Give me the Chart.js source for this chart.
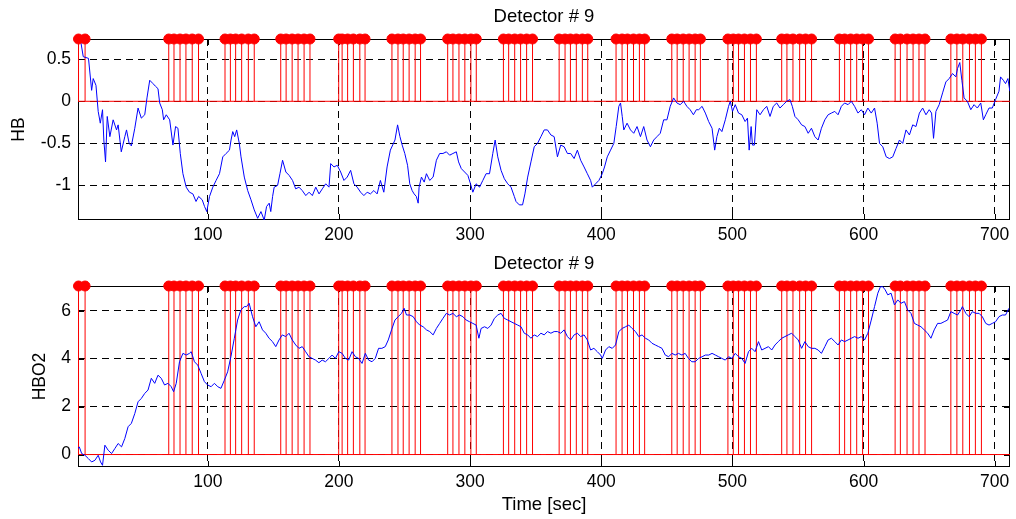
<!DOCTYPE html>
<html>
<head>
<meta charset="utf-8">
<title>Detector # 9</title>
<script src="https://cdn.jsdelivr.net/npm/chart.js@4.4.1/dist/chart.umd.min.js"></script>
<style>
  html, body { margin: 0; padding: 0; background: #fff; }
  #wrap { position: relative; width: 1016px; height: 519px; }
  canvas { position: absolute; left: 0; }
  #hb-chart { top: 0; }
  #hbo2-chart { top: 250px; }
</style>
</head>
<body>
<div id="wrap">
  <canvas id="hb-chart" width="1016" height="250"></canvas>
  <canvas id="hbo2-chart" width="1016" height="269"></canvas>
</div>
<script>
// axis ticks
const timeTicks = [100, 200, 300, 400, 500, 600, 700];
const hbTicks = [-1, -0.5, 0, 0.5];
const hbo2Ticks = [0, 2, 4, 6];

// stimulus onsets (sec), shown as stems in both panels
const stimTimes = [
    1.4, 6.4,
    70.2, 74.2, 78.8, 83.3, 88.1, 92.9,
    113.1, 117.2, 121.2, 125.8, 130.9, 135.4,
    155.6, 159.7, 164.3, 168.8, 173.4, 177.9,
    199.8, 202.4, 206.6, 211.0, 215.9, 219.9,
    240.4, 245.0, 249.0, 253.5, 258.1, 262.2,
    282.9, 286.9, 291.5, 296.0, 300.6, 304.7,
    325.4, 329.4, 334.0, 338.5, 343.1, 347.6,
    367.9, 372.4, 376.5, 381.0, 385.6, 389.7,
    411.3, 415.9, 420.0, 424.6, 429.1, 433.1,
    453.8, 457.9, 462.5, 467.0, 471.6, 475.6,
    496.6, 500.7, 504.7, 509.2, 513.8, 518.3,
    537.6, 541.6, 546.2, 551.3, 555.8, 560.4,
    581.6, 585.6, 590.2, 594.8, 599.3, 603.8,
    624.1, 628.1, 633.2, 637.8, 642.3, 646.9,
    666.6, 671.2, 675.7, 680.8, 685.3, 689.9
];

// HB trace
const hbTime = [
    1, 3, 5, 9, 11.4, 12.6, 14.7, 16.4, 18, 19.7,
    20.7, 22, 23.3, 25.3, 27.8, 30.4, 31.6, 34, 36.7, 38,
    40, 41.7, 44.3, 46.8, 49.3, 51.9, 53.6, 55.7, 58.2, 60,
    62, 63.3, 65.3, 66.3, 68.3, 70.9, 73.4, 75.4, 77.2, 79,
    81, 83.5, 86, 88.6, 91, 93, 95.7, 97.5, 99.2, 101.3,
    103.8, 106.3, 108.9, 111.4, 113.9, 116.5, 117.7, 119, 120.5, 122,
    124, 125.3, 127.8, 130.4, 132.9, 135.4, 138, 140.5, 143, 144.8,
    146.8, 148, 149.4, 150.6, 153.2, 155, 157, 159.5, 162, 164.6,
    167, 169.5, 172, 174.7, 177.2, 179.7, 182.3, 184.8, 187.3, 189.9,
    192.4, 193.7, 196.2, 198.7, 201.3, 203.8, 206.3, 208.9, 211.4, 213.9,
    216.5, 219, 221.5, 224, 226.6, 229.1, 231.6, 234.2, 236.7, 239.2,
    242.7, 244.7, 246.5, 248.2, 250.2, 252.3, 254, 255.8, 257.3, 259,
    260.4, 261.1, 262.9, 265, 266.7, 269.2, 271.8, 274.3, 276.8, 279.3,
    281.9, 284.4, 286.9, 289.5, 291.2, 293.3, 295.8, 298.3, 300.3, 302.1,
    304.6, 307.2, 309.7, 312.2, 314.8, 317.3, 319.1, 321.1, 323.6, 326.1,
    328.7, 331.2, 333.7, 335, 337.5, 340, 341.8, 343.9, 346.4, 348.9,
    351.4, 354, 356.5, 359, 361.6, 364.1, 366.6, 369.1, 371.7, 374.2,
    376.7, 379.3, 381.8, 384.3, 386.9, 389.4, 391.9, 393.2, 395.7, 398.2,
    400.8, 402.5, 404.6, 407.1, 409.6, 411.4, 413.4, 414.7, 416, 417.2,
    419.7, 422.3, 424.8, 427.3, 429.9, 432.4, 434.9, 437.5, 440, 442.5,
    445, 447.6, 450.1, 452.6, 455.2, 457.7, 460.2, 462.8, 465.3, 467.8,
    470.3, 472.5, 474.3, 476.9, 479.4, 481.9, 484.5, 486.5, 488.2, 490,
    492, 494.6, 497.1, 498.4, 500.1, 502.2, 504.7, 507.2, 509.7, 511.5,
    512.8, 514.3, 515.3, 516.8, 518.6, 521.1, 523.7, 526.2, 528.7, 531.2,
    533.8, 536.3, 538.8, 541.4, 543.9, 545.7, 547.7, 550.2, 552.8, 555.3,
    557.8, 560.3, 562.9, 565.4, 567.9, 570.5, 573, 575.5, 578.1, 580.6,
    583.1, 585.6, 588.2, 590.7, 593.2, 595.8, 598.3, 600.8, 603.3, 605.9,
    608.4, 610.4, 612.2, 614.7, 617.3, 619.8, 622.3, 624.8, 627.4, 629.9,
    632.4, 635, 637.5, 640, 642.6, 645.1, 647.6, 650.1, 651.9, 653.4,
    655.2, 657.7, 660.3, 662.8, 665.3, 667.9, 670.4, 671.7, 673.4, 675,
    676.7, 679.2, 681.8, 684.3, 686.8, 689.4, 691.4, 693.2, 695.7, 698.2,
    700.7, 703.3, 704.5, 706.6, 708.3, 710.1, 711.6
];
const hbValues = [
    0.70, 0.72, 0.53, 0.51, 0.13, 0.27, 0.19, -0.12, -0.26, -0.10,
    -0.46, -0.72, -0.18, -0.42, -0.22, -0.34, -0.28, -0.60, -0.42, -0.34,
    -0.50, -0.53, -0.32, -0.08, -0.20, -0.16, 0.04, 0.25, 0.21, 0.18,
    0.15, -0.02, -0.10, -0.22, -0.16, -0.22, -0.52, -0.30, -0.32, -0.62,
    -0.86, -1.02, -1.08, -1.10, -1.19, -1.13, -1.17, -1.25, -1.31, -1.13,
    -1.02, -0.94, -0.86, -0.66, -0.62, -0.58, -0.46, -0.36, -0.42, -0.34,
    -0.50, -0.66, -0.90, -1.06, -1.17, -1.29, -1.39, -1.31, -1.41, -1.25,
    -1.21, -1.31, -1.13, -1.02, -1.00, -0.86, -0.70, -0.84, -0.88, -0.94,
    -1.04, -1.02, -1.06, -1.12, -1.08, -1.12, -1.02, -1.10, -1.04, -0.98,
    -1.02, -0.74, -0.78, -0.76, -0.84, -0.94, -0.90, -0.82, -0.98, -1.02,
    -1.08, -1.12, -1.08, -1.10, -1.06, -1.10, -0.94, -1.08, -0.78, -0.58,
    -0.46, -0.28, -0.42, -0.52, -0.62, -0.76, -0.98, -1.06, -1.10, -1.13,
    -1.21, -1.02, -0.90, -0.96, -0.86, -0.94, -0.90, -0.70, -0.62, -0.62,
    -0.60, -0.64, -0.62, -0.60, -0.72, -0.80, -0.84, -0.88, -0.98, -1.08,
    -0.98, -1.02, -0.94, -0.86, -0.86, -0.62, -0.46, -0.66, -0.82, -0.92,
    -0.98, -1.02, -1.13, -1.19, -1.23, -1.23, -1.10, -0.90, -0.72, -0.54,
    -0.50, -0.42, -0.34, -0.34, -0.40, -0.42, -0.66, -0.52, -0.54, -0.62,
    -0.62, -0.68, -0.58, -0.70, -0.78, -0.86, -0.94, -1.02, -0.98, -0.94,
    -0.86, -0.78, -0.66, -0.58, -0.50, -0.30, -0.06, -0.02, -0.18, -0.34,
    -0.26, -0.34, -0.38, -0.30, -0.42, -0.30, -0.46, -0.54, -0.46, -0.42,
    -0.38, -0.22, -0.22, -0.06, 0.04, -0.02, -0.04, 0.00, -0.06, -0.10,
    -0.16, -0.10, -0.10, -0.06, -0.14, -0.24, -0.32, -0.58, -0.42, -0.32,
    -0.36, -0.22, -0.06, 0.00, -0.12, -0.04, -0.14, -0.16, -0.24, -0.20,
    -0.58, -0.30, -0.52, -0.52, -0.10, -0.16, -0.10, -0.06, -0.18, -0.06,
    -0.02, -0.08, -0.04, 0.00, 0.02, -0.06, -0.18, -0.22, -0.28, -0.30,
    -0.38, -0.32, -0.42, -0.46, -0.32, -0.22, -0.16, -0.14, -0.12, -0.16,
    -0.06, -0.02, -0.04, 0.00, -0.06, -0.14, -0.10, -0.16, -0.08, -0.14,
    -0.08, -0.26, -0.50, -0.54, -0.66, -0.68, -0.66, -0.56, -0.46, -0.50,
    -0.34, -0.40, -0.28, -0.30, -0.14, -0.08, -0.16, -0.10, -0.14, -0.44,
    -0.12, -0.04, 0.10, 0.23, 0.27, 0.33, 0.29, 0.39, 0.46, 0.25,
    0.04, 0.00, -0.10, -0.04, -0.08, -0.02, -0.22, -0.16, -0.08, -0.08,
    0.02, 0.12, 0.29, 0.25, 0.21, 0.27, 0.12
];

// HBO2 trace
const hbo2Time = [
    1, 2, 3.8, 6.3, 8.9, 11.4, 13.9, 16.4, 18.2, 19.7,
    21.5, 24, 26.6, 29.1, 31.6, 34.2, 36.7, 39.2, 41.7, 44.3,
    46.8, 49.3, 51.9, 54.4, 56.9, 59.5, 62, 64.5, 67, 69.6,
    72.1, 73.9, 75.9, 78.4, 81, 83.5, 86, 87.3, 89.8, 92.3,
    94.9, 97.4, 99.9, 102.5, 105, 107.6, 110, 112.6, 115.1, 117.6,
    120.2, 122.7, 125.2, 127.8, 129.5, 131.5, 134.1, 136.6, 139.1, 141.7,
    144.2, 146.7, 149.3, 151.8, 154.3, 156.8, 159.4, 161.9, 164.4, 167,
    169.5, 172, 174.6, 177.1, 179.6, 182.1, 184.7, 187.2, 189.7, 192.3,
    194.8, 197.3, 199.9, 202.4, 204.9, 207.4, 210, 212.5, 215, 217.6,
    220.1, 222.6, 225.2, 227.7, 230.2, 232.7, 235.3, 237.6, 240.1, 242.7,
    245.2, 247.7, 249.7, 251.5, 254, 256.6, 259.1, 261.6, 264.2, 266.7,
    269.2, 271.8, 274.3, 276.8, 279.3, 281.9, 284.4, 286.9, 289.5, 292,
    294.5, 297, 299.6, 302.1, 304.6, 306.7, 308.4, 311, 313.5, 316,
    318.5, 321.1, 323.6, 326.1, 328.7, 331.2, 333.7, 336.3, 338.8, 341.3,
    343.9, 346.4, 348.9, 351.4, 354, 356.5, 359, 361.6, 364.1, 366.6,
    369.1, 371.7, 374.2, 376.7, 379.3, 381.8, 384.3, 386.9, 389.4, 391.9,
    394.4, 397, 399.5, 400.8, 403.3, 405.8, 408.4, 410.9, 413.4, 416,
    418.5, 421, 423.5, 426.1, 428.6, 431.1, 433.7, 436.2, 438.7, 441.2,
    443.8, 446.3, 448.8, 451.4, 453.9, 456.4, 458.9, 461.5, 464, 466.5,
    469.1, 471.6, 474.3, 476.9, 479.4, 482, 484.5, 487, 489.5, 492,
    494.6, 497.1, 499.6, 502.2, 504.7, 507.2, 509.7, 512.3, 514.8, 517.3,
    519.9, 522.4, 524.9, 527.5, 530, 532.5, 535, 537.6, 540.1, 542.6,
    545.2, 547.7, 550.2, 552.8, 555.3, 557.8, 560.3, 562.9, 565.4, 567.9,
    570.5, 573, 575.5, 578.1, 580.6, 583.1, 585.6, 588.2, 590.7, 593.2,
    595.8, 598.3, 600.8, 603.3, 605.9, 608.4, 610.9, 612.9, 614.7, 616.5,
    618.5, 621, 623.6, 626.1, 628.6, 631.2, 633.7, 636.2, 638.8, 641.3,
    643.8, 646.3, 648.9, 651.4, 653.9, 656.5, 659, 661.5, 664.1, 666.6,
    669.1, 671.7, 674.2, 675.4, 678, 680.5, 683, 685.6, 688.1, 690.6,
    693.2, 695.7, 698.2, 700.7, 703.3, 705.8, 708.3, 710.9
];
const hbo2Values = [
    0.25, 0.32, 0.04, -0.03, -0.17, -0.31, -0.24, -0.03, -0.31, -0.45,
    0.39, 0.18, 0.04, 0.25, 0.46, 0.32, 0.67, 1.16, 1.30, 1.71,
    2.20, 2.34, 2.55, 2.69, 3.18, 2.97, 3.31, 3.18, 2.90, 2.97,
    2.83, 2.62, 2.97, 3.87, 4.22, 4.15, 4.22, 4.29, 3.87, 3.73,
    3.38, 3.04, 2.90, 2.83, 2.97, 2.83, 2.76, 3.10, 3.45, 4.08,
    4.85, 5.61, 6.03, 6.17, 6.17, 6.31, 5.75, 5.33, 5.54, 5.20,
    5.06, 4.85, 4.71, 4.50, 4.78, 4.99, 4.92, 5.06, 4.78, 4.57,
    4.43, 4.50, 4.29, 4.08, 4.01, 3.94, 3.83, 3.94, 3.87, 4.01,
    4.15, 4.01, 4.29, 4.22, 4.01, 3.94, 4.29, 4.08, 4.01, 3.80,
    4.22, 3.94, 3.87, 4.01, 4.43, 4.43, 4.50, 4.78, 5.20, 5.61,
    5.75, 5.89, 6.10, 5.82, 5.82, 5.75, 5.54, 5.40, 5.33, 5.20,
    5.13, 4.99, 5.26, 5.47, 5.68, 5.89, 5.82, 5.89, 5.75, 5.82,
    5.75, 5.61, 5.54, 5.47, 5.40, 4.85, 5.26, 5.33, 5.26, 5.40,
    5.68, 5.82, 5.89, 5.68, 5.61, 5.54, 5.47, 5.40, 5.33, 5.06,
    4.99, 4.85, 4.99, 4.92, 5.06, 4.99, 5.13, 5.06, 5.13, 5.13,
    5.06, 5.20, 4.92, 4.78, 4.99, 5.06, 4.92, 4.99, 4.78, 4.36,
    4.43, 4.29, 4.15, 4.01, 4.36, 4.50, 4.43, 4.57, 5.13, 5.26,
    5.33, 5.40, 5.26, 5.13, 4.92, 4.99, 4.85, 4.78, 4.64, 4.57,
    4.50, 4.43, 4.15, 4.08, 4.22, 4.15, 4.22, 4.15, 4.22, 4.01,
    3.87, 3.87, 4.01, 4.08, 4.15, 4.15, 4.22, 4.15, 4.08, 4.01,
    3.94, 4.08, 4.01, 4.22, 4.08, 4.01, 3.80, 4.29, 4.43, 4.29,
    4.71, 4.36, 4.43, 4.50, 4.36, 4.57, 4.71, 4.85, 4.92, 4.99,
    5.06, 4.92, 4.78, 4.43, 4.71, 4.50, 4.43, 4.43, 4.36, 4.22,
    4.50, 4.78, 4.85, 4.71, 4.57, 4.78, 4.71, 4.78, 4.85, 4.92,
    4.85, 4.92, 4.78, 5.06, 5.61, 6.17, 6.73, 7.00, 7.00, 6.87,
    6.66, 6.73, 6.24, 6.45, 6.31, 6.38, 6.03, 5.89, 5.47, 5.40,
    5.33, 5.20, 5.06, 4.85, 5.20, 5.47, 5.47, 5.54, 5.61, 5.96,
    5.89, 5.82, 6.03, 6.17, 5.89, 5.75, 5.96, 5.89, 5.89, 5.75,
    5.47, 5.40, 5.47, 5.54, 5.75, 5.82, 5.82, 6.10
];

const T_MIN = 1;
const T_MAX = 711.7;
const FONT = "'Liberation Sans', Arial, sans-serif";
const RED = '#ff0000';
const BLUE = '#0000ff';

// box + inward tick marks, matlab style
const framePlugin = {
    id: 'frame',
    beforeDatasetsDraw(chart) {
        const { ctx, chartArea: a, scales } = chart;
        ctx.save();
        ctx.strokeStyle = '#000';
        ctx.lineWidth = 1;
        ctx.beginPath();
        scales.x.ticks.forEach(t => {
            const px = Math.round(scales.x.getPixelForValue(t.value)) + 0.5;
            ctx.moveTo(px, a.bottom);
            ctx.lineTo(px, a.bottom - 6);
            ctx.moveTo(px, a.top);
            ctx.lineTo(px, a.top + 6);
        });
        scales.y.ticks.forEach(t => {
            const py = Math.round(scales.y.getPixelForValue(t.value)) + 0.5;
            ctx.moveTo(a.left, py);
            ctx.lineTo(a.left + 6, py);
            ctx.moveTo(a.right, py);
            ctx.lineTo(a.right - 6, py);
        });
        ctx.stroke();
        ctx.strokeRect(Math.round(a.left) + 0.5, Math.round(a.top) + 0.5,
            Math.round(a.width) - 1, Math.round(a.height) - 1);
        ctx.restore();
    }
};

function makePanel(id, cfg) {

    const trace = cfg.time.map((t, i) => ({ x: t, y: cfg.values[i] }));

    let stems = [];
    stimTimes.forEach(t => {
        stems.push({ x: t, y: 0 }, { x: t, y: cfg.yMax }, { x: t, y: null });
    });
    const heads = stimTimes.map(t => ({ x: t, y: cfg.yMax }));
    const baseline = [{ x: T_MIN, y: 0 }, { x: T_MAX, y: 0 }];

    return new Chart(document.getElementById(id), {
        type: 'line',
        data: {
            datasets: [
                {
                    data: heads, showLine: false, order: 0, clip: false,
                    pointRadius: 5, pointBorderWidth: 1,
                    pointBackgroundColor: RED, pointBorderColor: RED
                },
                { data: trace, borderColor: BLUE, borderWidth: 1, pointRadius: 0, order: 1 },
                { data: stems, borderColor: RED, borderWidth: 1, pointRadius: 0, spanGaps: false, order: 2 },
                { data: baseline, borderColor: RED, borderWidth: 1, pointRadius: 0, order: 3 }
            ]
        },
        options: {
            responsive: false,
            animation: false,
            events: [],
            layout: { padding: { left: 0, right: 2, top: 0, bottom: 0 } },
            plugins: {
                legend: { display: false },
                tooltip: { enabled: false },
                title: {
                    display: true,
                    text: 'Detector # 9',
                    color: '#000',
                    fullSize: false,
                    font: { family: FONT, size: 18.5, weight: 'normal' },
                    padding: cfg.titlePad
                }
            },
            scales: {
                x: {
                    type: 'linear',
                    min: T_MIN,
                    max: T_MAX,
                    afterBuildTicks: s => { s.ticks = timeTicks.map(v => ({ value: v })); },
                    afterFit: s => { s.height = cfg.xHeight; s.paddingLeft = 0; s.paddingRight = 0; },
                    ticks: {
                        color: '#000', padding: 4.5, maxRotation: 0,
                        font: { family: FONT, size: 17.5 },
                        callback: v => String(v)
                    },
                    grid: { color: '#000', lineWidth: 1, drawTicks: false },
                    border: { display: false, dash: [7, 5] },
                    title: cfg.xTitle
                },
                y: {
                    type: 'linear',
                    min: cfg.yMin,
                    max: cfg.yMax,
                    afterBuildTicks: s => { s.ticks = cfg.yTicks.map(v => ({ value: v })); },
                    afterFit: s => { s.width = 78; s.paddingTop = 0; s.paddingBottom = 0; },
                    ticks: {
                        color: '#000', padding: 7,
                        font: { family: FONT, size: 17.5 },
                        callback: v => String(v)
                    },
                    grid: { color: '#000', lineWidth: 1, drawTicks: false },
                    border: { display: false, dash: [7, 5] },
                    title: {
                        display: true,
                        text: cfg.yLabel,
                        color: '#000',
                        font: { family: FONT, size: 17.5 },
                        padding: { top: cfg.yTitlePad, bottom: 0 }
                    }
                }
            }
        },
        plugins: [framePlugin]
    });
}

makePanel('hb-chart', {
    time: hbTime,
    values: hbValues,
    yMin: -1.41,
    yMax: 0.74,
    yTicks: hbTicks,
    yLabel: 'HB',
    yTitlePad: 8.3,
    titlePad: { top: 5.6, bottom: 11.2 },
    xHeight: 30,
    xTitle: { display: false }
});

makePanel('hbo2-chart', {
    time: hbo2Time,
    values: hbo2Values,
    yMin: -0.52,
    yMax: 7.03,
    yTicks: hbo2Ticks,
    yLabel: 'HBO2',
    yTitlePad: 29.5,
    titlePad: { top: 2.9, bottom: 10.9 },
    xHeight: 52,
    xTitle: {
        display: true,
        text: 'Time [sec]',
        color: '#000',
        font: { family: FONT, size: 18.5 },
        padding: { top: 0, bottom: 2.9 }
    }
});
</script>
</body>
</html>
